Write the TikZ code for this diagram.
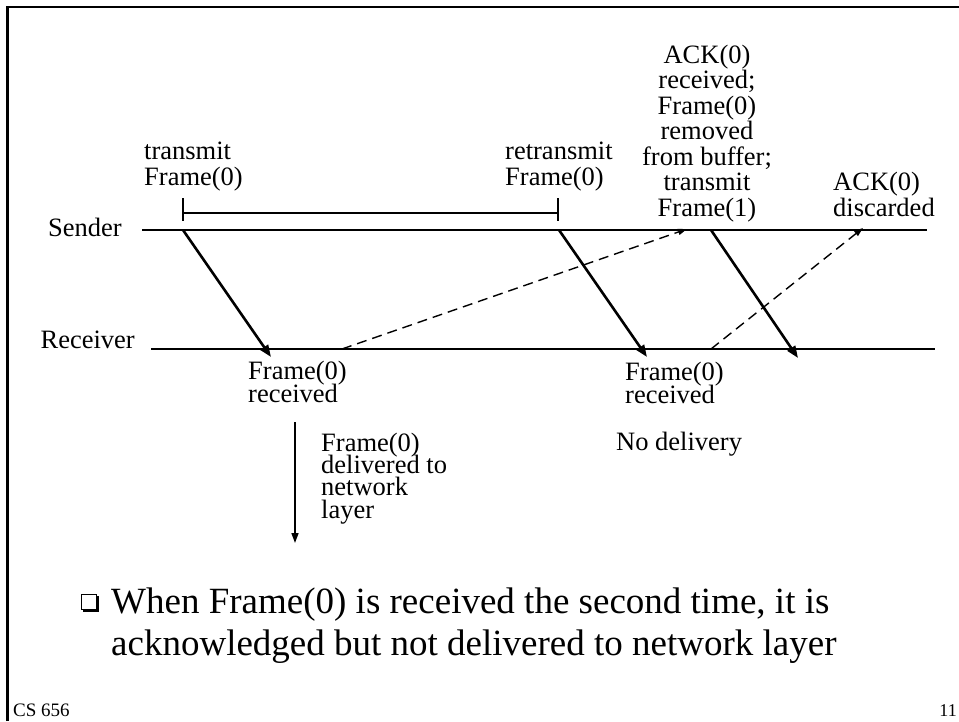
\documentclass[tikz,border=0pt]{standalone}
\usepackage{fontspec}
\setmainfont{Liberation Serif}
\usetikzlibrary{arrows.meta}
\newcommand{\tightlines}{\lineskiplimit -1000pt\relax}
\begin{document}
\begin{tikzpicture}[x=1pt,y=-1pt,
  lbl/.style={inner sep=0pt,font={\fontsize{26.5}{25.5}\selectfont\tightlines}},
  lbllow/.style={inner sep=0pt,font={\fontsize{26.5}{22.3}\selectfont\tightlines}},
  timeline/.style={line width=1.2pt},
  framearrow/.style={line width=2.6pt,-{Triangle[length=12pt,width=9pt]}},
  ackarrow/.style={line width=1.4pt,dash pattern=on 10pt off 6pt,-{Triangle[length=9pt,width=6pt]}},
  timer/.style={line width=1.5pt}]
\useasboundingbox (0,0) rectangle (959,721);
\fill[white] (0,0) rectangle (959,721);
% slide frame
\draw[line width=2.6pt] (7.5,721) -- (7.5,7) -- (959,7);
% time lines
\coordinate (sL) at (142,230); \coordinate (sR) at (927,230);
\coordinate (rL) at (151,349); \coordinate (rR) at (935,349);
\draw[timeline] (sL) -- (sR);
\draw[timeline] (rL) -- (rR);
\node[lbl,anchor=base east] (sender) at (122,236) {Sender};
\node[lbl,anchor=base east] (receiver) at (135,348) {Receiver};
% timer
\coordinate (t1) at (183,213); \coordinate (t2) at (558,213);
\draw[timer] (183,198) -- (183,221);
\draw[timer] (558,198) -- (558,221);
\draw[timer] (t1) -- (t2);
% frame arrows
\coordinate (s1) at (183,230); \coordinate (r1) at (271,357);
\coordinate (s2) at (559,230); \coordinate (r2) at (647,357);
\coordinate (s3) at (711,230); \coordinate (r3) at (798,358);
\draw[framearrow] (s1) -- (r1);
\draw[framearrow] (s2) -- (r2);
\draw[framearrow] (s3) -- (r3);
% ack arrows
\coordinate (ra1) at (342,349); \coordinate (sa1) at (687,229);
\coordinate (ra2) at (711,349); \coordinate (sa2) at (863,228);
\draw[ackarrow] (ra1) -- (sa1);
\draw[ackarrow] (ra2) -- (sa2);
% labels (base anchor = baseline of last line)
\node[lbl,anchor=base west,align=left] (tx) at (144,185) {transmit\\Frame(0)};
\node[lbl,anchor=base west,align=left] (rtx) at (505,185) {retransmit\\Frame(0)};
\node[lbl,anchor=base,align=center] (ackr) at (707,216) {ACK(0)\\received;\\Frame(0)\\removed\\from buffer;\\transmit\\Frame(1)};
\node[lbl,anchor=base west,align=left] (ackd) at (833,216) {ACK(0)\\discarded};
\node[lbllow,anchor=base west,align=left] (fr1) at (248,402) {Frame(0)\\received};
\node[lbllow,anchor=base west,align=left] (fr2) at (625,403) {Frame(0)\\received};
\node[lbllow,anchor=base west] (nod) at (616,450) {No delivery};
\node[lbllow,anchor=base west,align=left] (dlv) at (321,518) {Frame(0)\\delivered to\\network\\layer};
\coordinate (d1) at (295,422); \coordinate (d2) at (295,543);
\draw[line width=1.6pt,-{Triangle[length=10pt,width=7pt]}] (d1) -- (d2);
% bullet
\fill (83,596) rectangle (99,612);
\draw[fill=white,line width=1pt] (81,594) rectangle (96.5,609.5);
\node[inner sep=0pt,anchor=base west,align=left,font=\fontsize{37}{42}\selectfont] (bul) at (111,655) {When Frame(0) is received the second time, it is\\acknowledged but not delivered to network layer};
% footer
\node[inner sep=0pt,anchor=base west,font=\fontsize{19}{20}\selectfont] (cs) at (13,716) {CS 656};
\node[inner sep=0pt,anchor=base east,font=\fontsize{18}{19}\selectfont] (pg) at (957,716) {11};
\end{tikzpicture}
\end{document}
